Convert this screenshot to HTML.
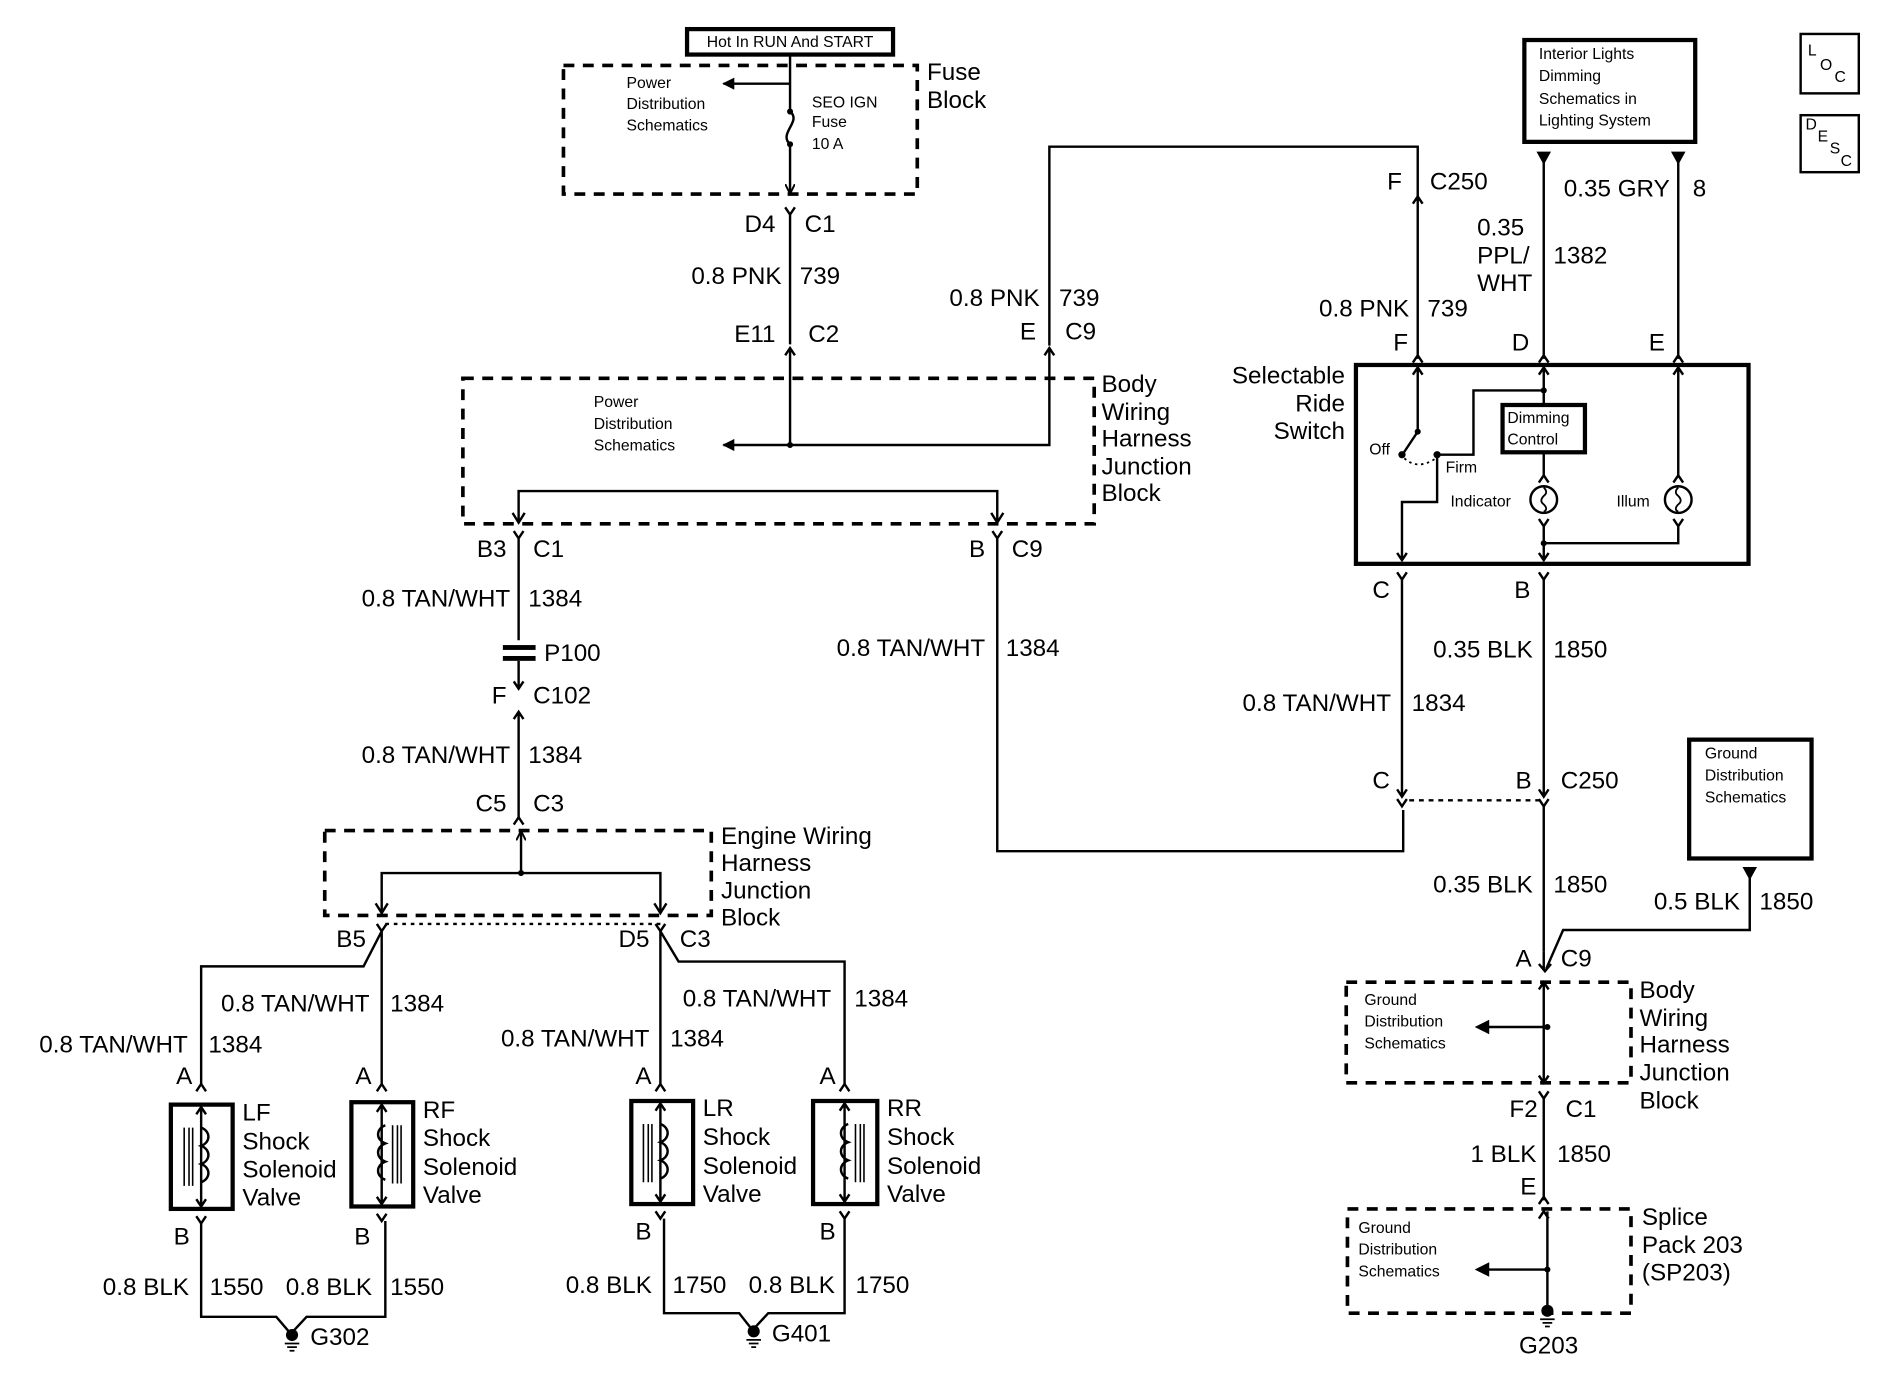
<!DOCTYPE html>
<html><head><meta charset="utf-8"><style>
html,body{margin:0;padding:0;background:#fff;width:1900px;height:1392px;overflow:hidden}
svg{display:block}
text{font-family:"Liberation Sans",Arial,sans-serif;fill:#000;dominant-baseline:central}
.b{font-size:20px}
.s{font-size:13px}
.m{font-size:15px}
.w{stroke:#000;stroke-width:2;fill:none}
.t{stroke:#000;stroke-width:3.5;fill:none}
.d{stroke:#000;stroke-width:3;fill:none;stroke-dasharray:9,7}
.r{text-anchor:end}
</style></head><body>
<svg width="1900" height="1392" viewBox="0 0 1568 1148" preserveAspectRatio="none" xmlns="http://www.w3.org/2000/svg">
<defs>
<marker id="a" viewBox="0 0 10 10" refX="9" refY="5" markerWidth="5" markerHeight="5" orient="auto"><path d="M0,0L10,5L0,10z"/></marker>
<marker id="o" viewBox="0 0 10 10" refX="9" refY="5" markerWidth="4" markerHeight="4" orient="auto"><path d="M0,0L10,5L0,10" fill="none" stroke="#000" stroke-width="2"/></marker>
</defs>

<!-- Top fuse block -->
<rect x="567" y="24" width="170" height="21" class="t"/>
<text x="652" y="35" class="s" text-anchor="middle">Hot In RUN And START</text>
<rect x="465" y="54" width="292" height="106" class="d"/>
<text x="765" y="60" class="b">Fuse</text><text x="765" y="83" class="b">Block</text>
<text x="517" y="69" class="s">Power</text><text x="517" y="86" class="s">Distribution</text><text x="517" y="104" class="s">Schematics</text>
<text x="670" y="85" class="s">SEO IGN</text><text x="670" y="101" class="s">Fuse</text><text x="670" y="119" class="s">10 A</text>
<path d="M652,45V92 M652,69H597" class="w" marker-end="url(#a)"/>
<path d="M652,92 C662,100 642,110 652,119" class="w"/>
<circle cx="652" cy="92" r="2.5"/><circle cx="652" cy="119" r="2.5"/>
<path d="M652,119V159" class="w" marker-end="url(#o)"/>
<path d="M648,171L652,177L656,171 M652,177V284" class="w"/>
<text x="640" y="185" class="b r">D4</text><text x="664" y="185" class="b">C1</text>
<text x="645" y="228" class="b r">0.8 PNK</text><text x="660" y="228" class="b">739</text>
<text x="640" y="276" class="b r">E11</text><text x="667" y="276" class="b">C2</text>
<path d="M648,293L652,287L656,293" class="w"/>

<!-- Body wiring junction block -->
<rect x="382" y="312" width="521" height="120" class="d"/>
<text x="909" y="317" class="b">Body</text><text x="909" y="340" class="b">Wiring</text><text x="909" y="362" class="b">Harness</text><text x="909" y="385" class="b">Junction</text><text x="909" y="407" class="b">Block</text>
<text x="490" y="332" class="s">Power</text><text x="490" y="350" class="s">Distribution</text><text x="490" y="368" class="s">Schematics</text>
<path d="M652,289V367 M866,289V367H597" class="w" marker-end="url(#a)"/>
<circle cx="652" cy="367" r="2.5"/>
<path d="M862,293L866,287L870,293" class="w"/>
<path d="M866,285V121H1170V162" class="w"/>
<text x="858" y="246" class="b r">0.8 PNK</text><text x="874" y="246" class="b">739</text>
<text x="855" y="274" class="b r">E</text><text x="879" y="274" class="b">C9</text>
<path d="M428,430V405H823V430" class="w"/>
<path d="M423,423L428,431L433,423 M818,423L823,431L828,423" class="w"/>
<path d="M424,438L428,444L432,438 M428,444V528 M819,438L823,444L827,438 M823,444V702H1158V668" class="w"/>
<text x="418" y="453" class="b r">B3</text><text x="440" y="453" class="b">C1</text>
<text x="813" y="453" class="b r">B</text><text x="835" y="453" class="b">C9</text>
<text x="421" y="494" class="b r">0.8 TAN/WHT</text><text x="436" y="494" class="b">1384</text>
<text x="813" y="535" class="b r">0.8 TAN/WHT</text><text x="830" y="535" class="b">1384</text>
<!-- P100 -->
<rect x="415" y="532" width="27" height="4" /><rect x="415" y="541" width="27" height="4"/>
<text x="449" y="539" class="b">P100</text>
<path d="M428,545V568 M424,562L428,568L432,562 M428,568" class="w"/>
<text x="418" y="574" class="b r">F</text><text x="440" y="574" class="b">C102</text>
<path d="M424,593L428,587L432,593 M428,588V676" class="w"/>
<text x="421" y="623" class="b r">0.8 TAN/WHT</text><text x="436" y="623" class="b">1384</text>
<text x="418" y="663" class="b r">C5</text><text x="440" y="663" class="b">C3</text>
<path d="M424,680L428,674L432,680" class="w"/>

<!-- Engine junction -->
<rect x="268" y="685" width="319" height="70" class="d"/>
<text x="595" y="690" class="b">Engine Wiring</text><text x="595" y="712" class="b">Harness</text><text x="595" y="735" class="b">Junction</text><text x="595" y="757" class="b">Block</text>
<path d="M430,720V686" class="w" marker-end="url(#o)"/>
<path d="M315,752V720H545V752" class="w"/><circle cx="430" cy="720" r="2.5"/>
<path d="M310,745L315,753L320,745 M540,745L545,753L550,745" class="w"/>
<path d="M318,762H545" stroke="#000" stroke-width="2" stroke-dasharray="3,4"/>
<text x="302" y="775" class="b r">B5</text><text x="536" y="775" class="b r">D5</text><text x="561" y="775" class="b">C3</text>
<path d="M311,762L315,768L319,762 M541,762L545,768L549,762" class="w"/>
<path d="M315,768L300,797H166V894 M315,768V894 M545,768V894 M545,768L560,793H697V894" class="w"/>
<text x="305" y="828" class="b r">0.8 TAN/WHT</text><text x="322" y="828" class="b">1384</text>
<text x="155" y="862" class="b r">0.8 TAN/WHT</text><text x="172" y="862" class="b">1384</text>
<text x="686" y="824" class="b r">0.8 TAN/WHT</text><text x="705" y="824" class="b">1384</text>
<text x="536" y="857" class="b r">0.8 TAN/WHT</text><text x="553" y="857" class="b">1384</text>
<text x="152" y="888" class="b" text-anchor="middle">A</text><text x="300" y="888" class="b" text-anchor="middle">A</text>
<text x="531" y="888" class="b" text-anchor="middle">A</text><text x="683" y="888" class="b" text-anchor="middle">A</text>
<path d="M162,900L166,894L170,900 M311,900L315,894L319,900 M541,900L545,894L549,900 M693,900L697,894L701,900" class="w"/>

<!-- solenoids -->
<g>
<rect x="141" y="911" width="51" height="86" class="t"/>
<path d="M166,913V995 M162,919L166,913L170,919 M162,989L166,995L170,989" class="w"/>
<path d="M166,930c8,3 8,12 0,15c8,3 8,12 0,15c8,3 8,12 0,15" class="w" fill="#fff"/>
<path d="M152,930V978 M156,930V978 M159,930V978" stroke="#000" stroke-width="1.3"/>
<text x="200" y="918" class="b">LF</text><text x="200" y="942" class="b">Shock</text><text x="200" y="965" class="b">Solenoid</text><text x="200" y="988" class="b">Valve</text>
</g>
<g>
<rect x="290" y="909" width="51" height="86" class="t"/>
<path d="M315,911V993 M311,917L315,911L319,917 M311,987L315,993L319,987" class="w"/>
<path d="M318,928c-8,3 -8,12 0,15c-8,3 -8,12 0,15c-8,3 -8,12 0,15" class="w"/>
<path d="M324,928V976 M328,928V976 M331,928V976" stroke="#000" stroke-width="1.3"/>
<text x="349" y="916" class="b">RF</text><text x="349" y="939" class="b">Shock</text><text x="349" y="963" class="b">Solenoid</text><text x="349" y="986" class="b">Valve</text>
</g>
<g>
<rect x="521" y="908" width="51" height="85" class="t"/>
<path d="M545,910V991 M541,916L545,910L549,916 M541,985L545,991L549,985" class="w"/>
<path d="M545,927c8,3 8,12 0,15c8,3 8,12 0,15c8,3 8,12 0,15" class="w"/>
<path d="M531,927V975 M535,927V975 M538,927V975" stroke="#000" stroke-width="1.3"/>
<text x="580" y="914" class="b">LR</text><text x="580" y="938" class="b">Shock</text><text x="580" y="962" class="b">Solenoid</text><text x="580" y="985" class="b">Valve</text>
</g>
<g>
<rect x="671" y="908" width="53" height="85" class="t"/>
<path d="M697,910V991 M693,916L697,910L701,916 M693,985L697,991L701,985" class="w"/>
<path d="M700,927c-8,3 -8,12 0,15c-8,3 -8,12 0,15c-8,3 -8,12 0,15" class="w"/>
<path d="M706,927V975 M710,927V975 M713,927V975" stroke="#000" stroke-width="1.3"/>
<text x="732" y="914" class="b">RR</text><text x="732" y="938" class="b">Shock</text><text x="732" y="962" class="b">Solenoid</text><text x="732" y="985" class="b">Valve</text>
</g>
<path d="M162,1003L166,1009L170,1003 M311,1001L315,1007L319,1001 M541,999L545,1005L549,999 M693,999L697,1005L701,999" class="w"/>
<text x="150" y="1020" class="b" text-anchor="middle">B</text><text x="299" y="1020" class="b" text-anchor="middle">B</text>
<text x="531" y="1016" class="b" text-anchor="middle">B</text><text x="683" y="1016" class="b" text-anchor="middle">B</text>
<path d="M166,1009V1086H228L240,1100L253,1086H318V1007" class="w"/>
<path d="M548,1005V1083H610L621,1097L634,1083H697V1005" class="w"/>
<circle cx="241" cy="1101" r="5"/><path d="M235,1108H247M237,1111H245M239,1114H243" stroke="#000" stroke-width="1.5"/>
<circle cx="622" cy="1098" r="5"/><path d="M616,1105H628M618,1108H626M620,1111H624" stroke="#000" stroke-width="1.5"/>
<text x="256" y="1103" class="b">G302</text><text x="637" y="1100" class="b">G401</text>
<text x="156" y="1062" class="b r">0.8 BLK</text><text x="173" y="1062" class="b">1550</text>
<text x="307" y="1062" class="b r">0.8 BLK</text><text x="322" y="1062" class="b">1550</text>
<text x="538" y="1060" class="b r">0.8 BLK</text><text x="555" y="1060" class="b">1750</text>
<text x="689" y="1060" class="b r">0.8 BLK</text><text x="706" y="1060" class="b">1750</text>

<!-- right upper -->
<path d="M1166,168L1170,162L1174,168 M1170,163V296 M1166,299L1170,293L1174,299" class="w"/>
<text x="1157" y="150" class="b r">F</text><text x="1180" y="150" class="b">C250</text>
<text x="1163" y="255" class="b r">0.8 PNK</text><text x="1178" y="255" class="b">739</text>
<text x="1162" y="283" class="b r">F</text><text x="1262" y="283" class="b r">D</text><text x="1374" y="283" class="b r">E</text>
<rect x="1258" y="33" width="141" height="84" class="t"/>
<text x="1270" y="45" class="s">Interior Lights</text><text x="1270" y="63" class="s">Dimming</text><text x="1270" y="82" class="s">Schematics in</text><text x="1270" y="100" class="s">Lighting System</text>
<path d="M1268,125H1280L1274,136z M1379,125H1391L1385,136z"/>
<path d="M1274,130V296 M1385,130V296 M1270,299L1274,293L1278,299 M1381,299L1385,293L1389,299" class="w"/>
<text x="1219" y="188" class="b">0.35</text><text x="1219" y="211" class="b">PPL/</text><text x="1219" y="234" class="b">WHT</text><text x="1282" y="211" class="b">1382</text>
<text x="1378" y="156" class="b r">0.35 GRY</text><text x="1397" y="156" class="b">8</text>
<rect x="1486" y="28" width="48" height="49" class="w" stroke-width="2.5"/>
<text x="1492" y="42" class="s">L</text><text x="1502" y="54" class="s">O</text><text x="1514" y="64" class="s">C</text>
<rect x="1486" y="95" width="48" height="47" class="w" stroke-width="2.5"/>
<text x="1490" y="103" class="s">D</text><text x="1500" y="113" class="s">E</text><text x="1510" y="123" class="s">S</text><text x="1519" y="133" class="s">C</text>

<!-- switch -->
<rect x="1119" y="301" width="324" height="164" class="t"/>
<text x="1110" y="310" class="b r">Selectable</text><text x="1110" y="333" class="b r">Ride</text><text x="1110" y="356" class="b r">Switch</text>
<path d="M1166,309L1170,303L1174,309 M1170,303V356L1158,374" class="w"/>
<circle cx="1170" cy="356" r="2.5"/><circle cx="1157" cy="375" r="3"/><circle cx="1186" cy="375" r="3"/>
<path d="M1159,378Q1170,388 1185,378" stroke="#000" stroke-width="1.5" fill="none" stroke-dasharray="2,3"/>
<text x="1130" y="371" class="s">Off</text><text x="1193" y="386" class="s">Firm</text>
<path d="M1186,375H1216V322H1274 M1186,375V414H1157V462 M1153,456L1157,462L1161,456" class="w"/>
<circle cx="1274" cy="322" r="2.5"/>
<path d="M1270,309L1274,303L1278,309 M1274,303V334" class="w"/>
<rect x="1240" y="334" width="68" height="39" class="t"/>
<text x="1244" y="345" class="s">Dimming</text><text x="1244" y="363" class="s">Control</text>
<path d="M1274,373V392 M1270,398L1274,392L1278,398 M1270,428L1274,434L1278,428 M1274,434V462 M1270,456L1274,462L1278,456 M1274,448H1385V434 M1381,428L1385,434L1389,428 M1381,309L1385,303L1389,309 M1385,303V394 M1381,398L1385,392L1389,398" class="w"/>
<circle cx="1274" cy="448" r="2.5"/>
<circle cx="1274" cy="412" r="11" class="w"/><circle cx="1385" cy="412" r="11" class="w"/>
<path d="M1274,402q4,4 0,7q-4,4 0,7 q4,4 0,6 M1385,402q-4,4 0,7q4,4 0,7q-4,4 0,6" stroke="#000" stroke-width="1.5" fill="none"/>
<text x="1197" y="414" class="s">Indicator</text><text x="1334" y="414" class="s">Illum</text>
<path d="M1153,472L1157,478L1161,472 M1270,472L1274,478L1278,472 M1157,478V655 M1274,478V655 M1153,651L1157,657L1161,651 M1270,651L1274,657L1278,651" class="w"/>
<text x="1147" y="487" class="b r">C</text><text x="1263" y="487" class="b r">B</text>
<text x="1265" y="536" class="b r">0.35 BLK</text><text x="1282" y="536" class="b">1850</text>
<text x="1148" y="580" class="b r">0.8 TAN/WHT</text><text x="1165" y="580" class="b">1834</text>
<text x="1147" y="644" class="b r">C</text><text x="1264" y="644" class="b r">B</text><text x="1288" y="644" class="b">C250</text>
<path d="M1153,659L1157,665L1161,659 M1270,659L1274,665L1278,659" class="w"/>
<path d="M1163,660H1272" stroke="#000" stroke-width="2" stroke-dasharray="4,4"/>
<path d="M1274,665V785" class="w"/>
<text x="1265" y="730" class="b r">0.35 BLK</text><text x="1282" y="730" class="b">1850</text>
<rect x="1394" y="610" width="101" height="98" class="t"/>
<text x="1407" y="622" class="s">Ground</text><text x="1407" y="640" class="s">Distribution</text><text x="1407" y="658" class="s">Schematics</text>
<path d="M1438,715H1450L1444,726z"/>
<path d="M1444,720V767H1290L1276,799" class="w"/>
<text x="1436" y="744" class="b r">0.5 BLK</text><text x="1452" y="744" class="b">1850</text>
<path d="M1270,795L1275,801L1280,795 M1274,785V800" class="w"/>
<text x="1264" y="791" class="b r">A</text><text x="1288" y="791" class="b">C9</text>
<rect x="1111" y="810" width="235" height="83" class="d"/>
<text x="1126" y="825" class="s">Ground</text><text x="1126" y="843" class="s">Distribution</text><text x="1126" y="861" class="s">Schematics</text>
<text x="1353" y="817" class="b">Body</text><text x="1353" y="840" class="b">Wiring</text><text x="1353" y="862" class="b">Harness</text><text x="1353" y="885" class="b">Junction</text><text x="1353" y="908" class="b">Block</text>
<path d="M1270,816L1274,810L1278,816 M1274,810V893 M1270,887L1274,893L1278,887 M1277,847H1222" class="w"/>
<path d="M1217,847L1229,841V853z"/><circle cx="1277" cy="847" r="2.5"/>
<path d="M1270,900L1274,906L1278,900 M1274,906V990 M1270,993L1274,987L1278,993" class="w"/>
<text x="1269" y="915" class="b r">F2</text><text x="1292" y="915" class="b">C1</text>
<text x="1268" y="952" class="b r">1 BLK</text><text x="1285" y="952" class="b">1850</text>
<text x="1268" y="979" class="b r">E</text>
<rect x="1112" y="997" width="234" height="86" class="d"/>
<text x="1121" y="1013" class="s">Ground</text><text x="1121" y="1031" class="s">Distribution</text><text x="1121" y="1049" class="s">Schematics</text>
<text x="1355" y="1004" class="b">Splice</text><text x="1355" y="1027" class="b">Pack 203</text><text x="1355" y="1050" class="b">(SP203)</text>
<path d="M1270,1005L1274,999L1278,1005 M1277,999V1078 M1277,1047H1222" class="w"/>
<path d="M1217,1047L1229,1041V1053z"/><circle cx="1277" cy="1047" r="2.5"/>
<circle cx="1277" cy="1081" r="5"/><path d="M1271,1088H1283M1273,1091H1281M1275,1094H1279" stroke="#000" stroke-width="1.5"/>
<text x="1278" y="1110" class="b" text-anchor="middle">G203</text>
</svg>
</body></html>
